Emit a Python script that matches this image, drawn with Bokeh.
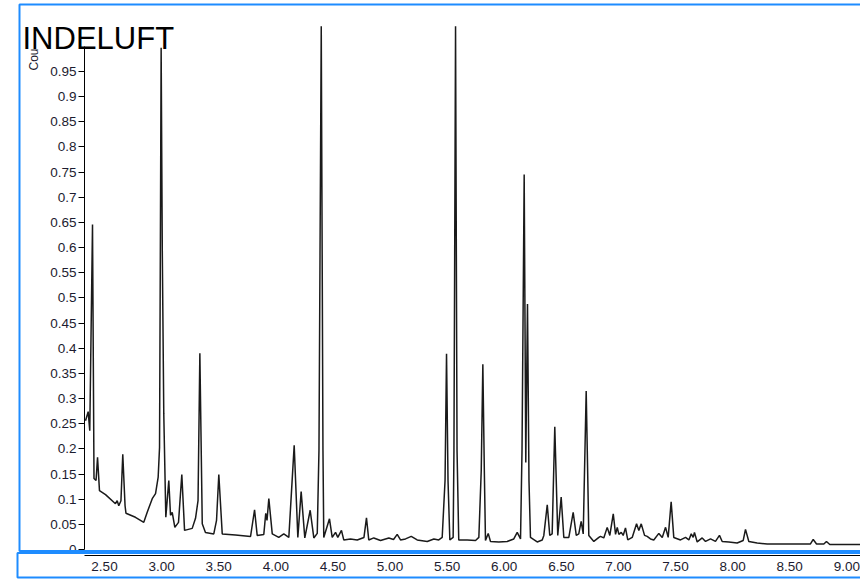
import math
from bokeh.plotting import figure
from bokeh.models import (Range1d, FixedTicker, CustomJSTickFormatter, NumeralTickFormatter,
                          Label, BoxAnnotation, ColumnDataSource)
from bokeh.embed import file_html
from bokeh.resources import INLINE

chart_title = "INDELUFT"
y_axis_title = "Cou"

retention_time = [
    2.334, 2.357, 2.371, 2.395, 2.408, 2.426, 2.439, 2.456, 2.509, 2.596, 2.611, 2.625, 2.644, 2.660,
    2.680, 2.688, 2.771, 2.844, 2.874, 2.918, 2.947, 2.970, 2.982, 2.989, 2.996, 3.006, 3.019, 3.037,
    3.063, 3.078, 3.093, 3.116, 3.148, 3.177, 3.201, 3.268, 3.297, 3.319, 3.335, 3.356, 3.384, 3.457,
    3.481, 3.501, 3.531, 3.647, 3.779, 3.814, 3.837, 3.895, 3.912, 3.923, 3.939, 3.969, 4.026, 4.070,
    4.114, 4.161, 4.193, 4.222, 4.254, 4.301, 4.333, 4.363, 4.378, 4.398, 4.413, 4.420, 4.470, 4.494,
    4.523, 4.543, 4.575, 4.595, 4.654, 4.713, 4.772, 4.794, 4.814, 4.858, 4.917, 4.990, 5.031, 5.063,
    5.092, 5.136, 5.186, 5.238, 5.326, 5.384, 5.427, 5.457, 5.482, 5.495, 5.508, 5.524, 5.553, 5.560,
    5.574, 5.587, 5.602, 5.676, 5.749, 5.778, 5.799, 5.813, 5.826, 5.836, 5.860, 5.880, 5.953, 6.026,
    6.084, 6.114, 6.143, 6.156, 6.175, 6.189, 6.204, 6.217, 6.230, 6.289, 6.333, 6.347, 6.377, 6.399,
    6.420, 6.443, 6.469, 6.499, 6.522, 6.566, 6.604, 6.631, 6.653, 6.674, 6.692, 6.718, 6.741, 6.785,
    6.829, 6.843, 6.872, 6.902, 6.925, 6.955, 6.975, 6.990, 7.004, 7.025, 7.042, 7.062, 7.082, 7.121,
    7.159, 7.179, 7.200, 7.229, 7.252, 7.281, 7.310, 7.354, 7.384, 7.413, 7.436, 7.462, 7.485, 7.544,
    7.588, 7.617, 7.638, 7.655, 7.666, 7.690, 7.734, 7.763, 7.807, 7.850, 7.885, 7.909, 7.967, 8.040,
    8.093, 8.113, 8.142, 8.215, 8.303, 8.478, 8.682, 8.706, 8.735, 8.799, 8.822, 8.851, 9.120,
]

counts = [
    0.256, 0.274, 0.236, 0.646, 0.141, 0.137, 0.183, 0.117, 0.109, 0.091, 0.097, 0.087, 0.097, 0.189,
    0.087, 0.072, 0.064, 0.054, 0.074, 0.101, 0.111, 0.144, 0.203, 0.594, 0.997, 0.594, 0.270, 0.064,
    0.137, 0.068, 0.074, 0.044, 0.054, 0.149, 0.038, 0.042, 0.062, 0.097, 0.390, 0.051, 0.034, 0.031,
    0.058, 0.149, 0.031, 0.029, 0.026, 0.079, 0.028, 0.030, 0.072, 0.058, 0.101, 0.031, 0.024, 0.031,
    0.024, 0.207, 0.024, 0.115, 0.023, 0.078, 0.023, 0.032, 0.197, 1.040, 0.197, 0.024, 0.061, 0.024,
    0.034, 0.024, 0.038, 0.019, 0.021, 0.019, 0.024, 0.063, 0.019, 0.023, 0.018, 0.023, 0.020, 0.030,
    0.019, 0.021, 0.026, 0.019, 0.016, 0.021, 0.019, 0.024, 0.137, 0.389, 0.137, 0.019, 0.024, 0.197,
    1.040, 0.197, 0.019, 0.019, 0.018, 0.024, 0.157, 0.368, 0.157, 0.018, 0.032, 0.016, 0.015, 0.016,
    0.021, 0.034, 0.021, 0.197, 0.745, 0.173, 0.488, 0.137, 0.024, 0.015, 0.019, 0.028, 0.089, 0.028,
    0.031, 0.244, 0.028, 0.104, 0.024, 0.024, 0.074, 0.028, 0.031, 0.056, 0.031, 0.315, 0.028, 0.016,
    0.024, 0.026, 0.023, 0.044, 0.028, 0.071, 0.030, 0.044, 0.030, 0.034, 0.028, 0.043, 0.019, 0.024,
    0.051, 0.038, 0.051, 0.028, 0.026, 0.021, 0.019, 0.032, 0.024, 0.044, 0.024, 0.095, 0.024, 0.019,
    0.024, 0.019, 0.031, 0.024, 0.034, 0.015, 0.023, 0.016, 0.021, 0.016, 0.028, 0.016, 0.015, 0.013,
    0.018, 0.040, 0.016, 0.013, 0.011, 0.011, 0.011, 0.020, 0.011, 0.011, 0.016, 0.010, 0.010,
]

x_ticks = [2.5, 3.0, 3.5, 4.0, 4.5, 5.0, 5.5, 6.0, 6.5, 7.0, 7.5, 8.0, 8.5, 9.0]
y_ticks = [0, 0.05, 0.1, 0.15, 0.2, 0.25, 0.3, 0.35, 0.4, 0.45, 0.5, 0.55, 0.6, 0.65,
           0.7, 0.75, 0.8, 0.85, 0.9, 0.95]

FONT = "Liberation Sans"
LABEL_COLOR = "#1c1c30"
BLUE = "#1e8cff"

source = ColumnDataSource(data=dict(t=retention_time, c=counts))

# The plot frame covers the whole canvas; the axes are pinned with fixed_location
p = figure(width=860, height=579, output_backend="svg", toolbar_location=None,
           x_range=Range1d(1.5893, 9.1200), y_range=Range1d(-0.05962, 1.09102),
           min_border_left=0, min_border_right=0, min_border_top=0, min_border_bottom=0)
p.outline_line_color = None
p.background_fill_color = "white"
p.border_fill_color = "white"
p.xgrid.visible = False
p.ygrid.visible = False

p.line(x="t", y="c", source=source, line_color="#1a1a1a", line_width=1.5)

yax = p.yaxis[0]
yax.fixed_location = 2.325
yax.ticker = FixedTicker(ticks=y_ticks)
yax.formatter = CustomJSTickFormatter(code="return String(Math.round(tick*100)/100);")
yax.bounds = (0, 1.0)
yax.major_tick_out = 6
yax.major_tick_in = 0
yax.minor_tick_out = 0
yax.minor_tick_in = 0
yax.major_label_standoff = 2
yax.axis_line_color = "black"
yax.major_tick_line_color = "black"
yax.major_label_text_font = FONT
yax.major_label_text_font_size = "13.5px"
yax.major_label_text_color = LABEL_COLOR

xax = p.xaxis[0]
xax.fixed_location = -0.0119
xax.ticker = FixedTicker(ticks=x_ticks)
xax.formatter = NumeralTickFormatter(format="0.00")
xax.bounds = (2.325, 9.2)
xax.major_tick_out = 0
xax.major_tick_in = 0
xax.minor_tick_out = 0
xax.minor_tick_in = 0
xax.major_label_standoff = 7
xax.axis_line_color = "black"
xax.major_label_text_font = FONT
xax.major_label_text_font_size = "13.5px"
xax.major_label_text_color = LABEL_COLOR

upper_box = BoxAnnotation(left=19, right=900, top=4, bottom=550.5,
                          left_units="canvas", right_units="canvas",
                          top_units="canvas", bottom_units="canvas",
                          fill_color=None, fill_alpha=0,
                          line_color=BLUE, line_alpha=1.0, line_width=2)
lower_box = BoxAnnotation(left=17, right=900, top=552.5, bottom=577,
                          left_units="canvas", right_units="canvas",
                          top_units="canvas", bottom_units="canvas",
                          fill_color=None, fill_alpha=0,
                          line_color=BLUE, line_alpha=1.0, line_width=2)
p.add_layout(upper_box)
p.add_layout(lower_box)

title_label = Label(x=22, y=38.3, x_units="canvas", y_units="canvas", text=chart_title,
                    text_font=FONT, text_font_size="31px", text_color="black",
                    text_baseline="alphabetic", text_align="left")
p.add_layout(title_label)

ylab = Label(x=33, y=70, x_units="canvas", y_units="canvas", text=y_axis_title,
             angle=math.pi / 2, text_font=FONT, text_font_size="12px", text_color=LABEL_COLOR,
             text_baseline="alphabetic", text_align="left")
p.add_layout(ylab)

open("out.html", "w").write(file_html(p, INLINE))
